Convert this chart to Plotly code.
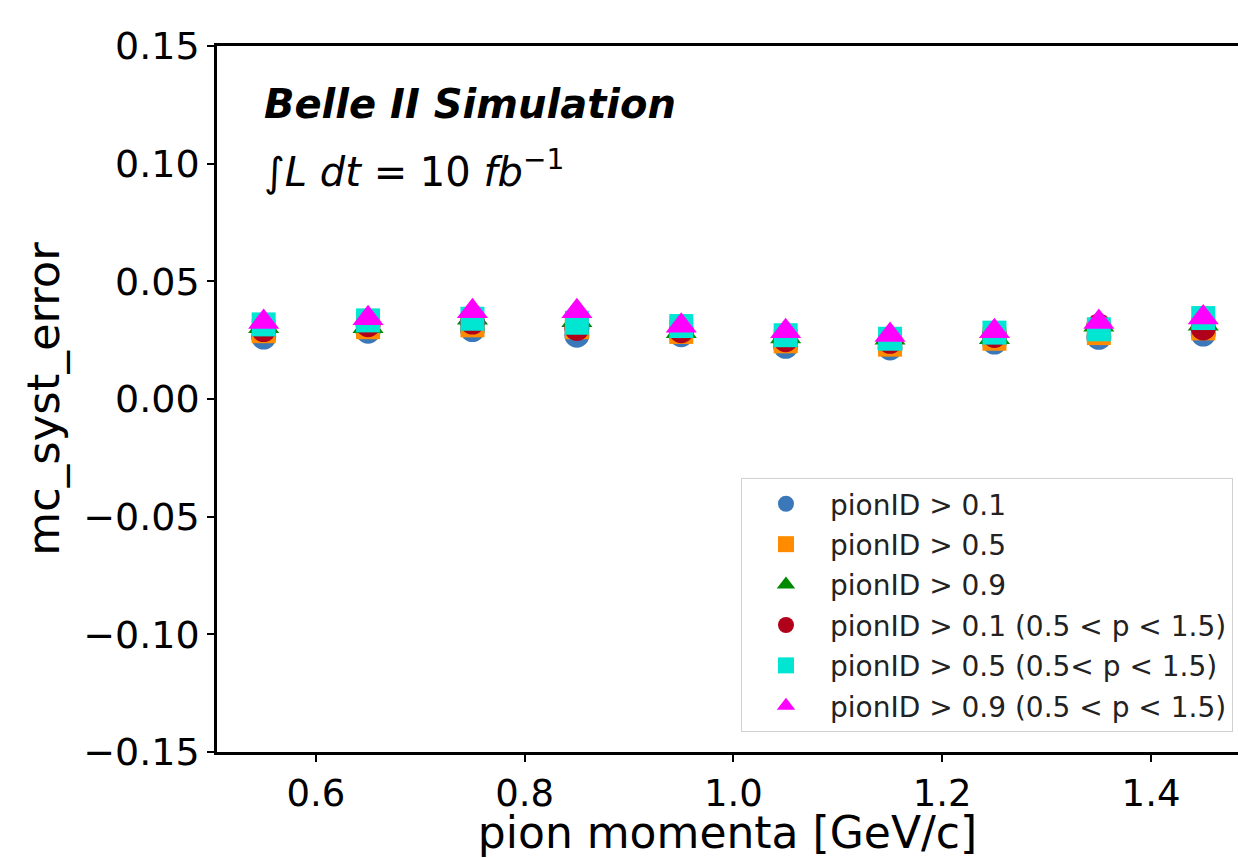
import plotly.graph_objects as go

momenta = [0.55, 0.65, 0.75, 0.85, 0.95, 1.05, 1.15, 1.25, 1.35, 1.45]

pid01 = [0.0263, 0.0288, 0.0295, 0.0271, 0.0273, 0.0224, 0.0217, 0.0242, 0.0262, 0.0276]
pid05 = [0.0288, 0.0305, 0.0313, 0.0305, 0.0285, 0.0245, 0.0231, 0.0256, 0.0280, 0.0300]
pid09 = [0.0309, 0.0309, 0.0345, 0.0335, 0.0288, 0.0266, 0.0260, 0.0262, 0.0315, 0.0320]
pid01_p = [0.0295, 0.0316, 0.0327, 0.0300, 0.0290, 0.0252, 0.0245, 0.0270, 0.0310, 0.0302]
pid05_p = [0.0317, 0.0334, 0.0341, 0.0324, 0.0310, 0.0271, 0.0256, 0.0282, 0.0296, 0.0344]
pid09_p = [0.0327, 0.0343, 0.0373, 0.0373, 0.0311, 0.0288, 0.0272, 0.0288, 0.0327, 0.0346]

series = [
    ("pionID > 0.1", pid01, "circle", "#3a78b9", 25),
    ("pionID > 0.5", pid05, "square", "#ff8c00", 24),
    ("pionID > 0.9", pid09, "triangle-up", "#008a00", 27),
    ("pionID > 0.1 (0.5 < p < 1.5)", pid01_p, "circle", "#b0001a", 25),
    ("pionID > 0.5 (0.5< p < 1.5)", pid05_p, "square", "#00e6d2", 24),
    ("pionID > 0.9 (0.5 < p < 1.5)", pid09_p, "triangle-up", "#ff00ff", 27),
]

fig = go.Figure()
for i, (name, vals, sym, col, sz) in enumerate(series):
    fig.add_trace(go.Scatter(
        x=momenta, y=vals, mode="markers", name=name,
        legendgroup=f"g{i}",
        marker=dict(symbol=sym, color=col, size=sz, line=dict(width=0)),
    ))

font_family = "DejaVu Sans"
fig.update_layout(
    width=1238, height=858,
    margin=dict(l=217, r=0, t=46, b=106),
    paper_bgcolor="white", plot_bgcolor="white",
    font=dict(family=font_family, color="black"),
    showlegend=True,
    legend=dict(
        x=0.5132, y=0.388, xanchor="left", yanchor="top",
        bgcolor="white", bordercolor="#d0d0d0", borderwidth=1,
        font=dict(size=28, family=font_family, color="#222222"),
        itemwidth=78, tracegroupgap=1, traceorder="grouped",
    ),
    xaxis=dict(
        range=[0.5053, 1.4833], tickmode="array",
        tickvals=[0.6, 0.8, 1.0, 1.2, 1.4], ticktext=["0.6", "0.8", "1.0", "1.2", "1.4"],
        showgrid=False, zeroline=False, showline=True, linecolor="black", linewidth=2.5,
        mirror=True, ticks="outside", ticklen=7, tickwidth=1.5, tickcolor="black",
        tickfont=dict(size=37),
        title=dict(text="pion momenta [GeV/c]", font=dict(size=44), standoff=2),
    ),
    yaxis=dict(
        range=[-0.15, 0.15], tickmode="array",
        tickvals=[-0.15, -0.10, -0.05, 0.0, 0.05, 0.10, 0.15],
        ticktext=["\u22120.15", "\u22120.10", "\u22120.05", "0.00", "0.05", "0.10", "0.15"],
        showgrid=False, zeroline=False, showline=True, linecolor="black", linewidth=2.5,
        mirror=False, ticks="outside", ticklen=7, tickwidth=1.5, tickcolor="black",
        tickfont=dict(size=38),
        title=dict(text="mc_syst_error", font=dict(size=45), standoff=10),
    ),
    annotations=[
        dict(x=0.044, y=0.918, xref="paper", yref="paper", xanchor="left", yanchor="middle",
             text="<b><i>Belle II Simulation</i></b>", showarrow=False,
             font=dict(size=40, family=font_family, color="black")),
        dict(x=0.044, y=0.826, xref="paper", yref="paper", xanchor="left", yanchor="middle",
             text="\u222b<i>L dt</i> = 10 <i>fb</i><sup>\u22121</sup>", showarrow=False,
             font=dict(size=40, family=font_family, color="black")),
    ],
)

fig.write_html("out.html")
